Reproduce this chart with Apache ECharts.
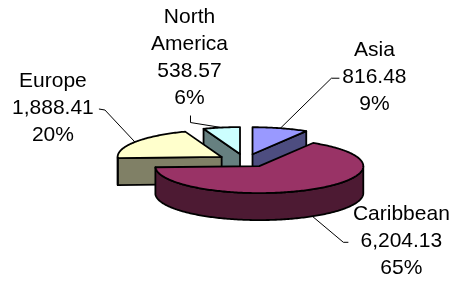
<!DOCTYPE html>
<html>
<head>
<meta charset="utf-8">
<script src="https://cdn.jsdelivr.net/npm/echarts@6/dist/echarts.min.js"></script>
<style>
html, body { margin: 0; padding: 0; background: #fff; }
#main { width: 455px; height: 281px; }
</style>
</head>
<body>
<div id="main"></div>
<script>
// data
var categories = ['Asia', 'Caribbean', 'Europe', 'North America'];
var values = [816.48, 6204.13, 1888.41, 538.57];
var percentLabels = ['9%', '65%', '20%', '6%'];

// styles
var topColors = ['#9999ff', '#993366', '#ffffcc', '#ccffff'];
var sideColors = ['#4d4d80', '#4d1a33', '#808066', '#668080'];

// label placement, relative to where the leader touches the slice
var labelOffsets = [[94, -51], [89, 25], [-82, -34], [-32, -70]];
var elbowOffsets = [[51, -50], [31, 26], [-30, -32], [-31, -5]];
var endOffsets = [[59, -50], [36, 26], [-36, -33], [-31, -12]];

// pie geometry (flattened 3D look)
var CX = 245, CY = 160.5;   // centre
var RX = 104, RY = 27;      // ellipse radii of the top face
var DEPTH = 27;             // thickness
var EXP_X = 28, EXP_Y = 6.5; // explode distance

var total = 0;
for (var i = 0; i < values.length; i++) total += values[i];
var startAngles = [], endAngles = [];
var acc = 0;
for (var i = 0; i < values.length; i++) {
	startAngles.push(acc / total * 360);
	acc += values[i];
	endAngles.push(acc / total * 360);
}

function rad(d) { return d * Math.PI / 180; }
function rim(cx, cy, a, dz) {
	return [cx + RX * Math.sin(rad(a)), cy - RY * Math.cos(rad(a)) + dz];
}
function arc(cx, cy, a0, a1, dz) {
	var pts = [];
	var n = Math.max(2, Math.ceil(Math.abs(a1 - a0)));
	for (var k = 0; k <= n; k++) pts.push(rim(cx, cy, a0 + (a1 - a0) * k / n, dz));
	return pts;
}
function fmt(v) {
	return echarts.format.addCommas(v.toFixed(2));
}

function renderSlice(params, api) {
	var i = params.dataIndex;
	var v = api.value(0);
	var a0 = startAngles[i], a1 = endAngles[i];
	var mid = (a0 + a1) / 2;
	var cx = CX + EXP_X * Math.sin(rad(mid));
	var cy = CY - EXP_Y * Math.cos(rad(mid));
	var base = Math.round((1 - Math.cos(rad(mid))) * 50) * 5;
	var line = { stroke: '#000', lineWidth: 1.8, lineJoin: 'round' };
	var children = [];

	// cut faces that look to the front
	[[a0, Math.sin(rad(a0)) < -0.01], [a1, Math.sin(rad(a1)) > 0.01]].forEach(function (f) {
		if (!f[1]) return;
		var p = rim(cx, cy, f[0], 0), q = rim(cx, cy, f[0], DEPTH);
		children.push({
			type: 'polygon', z2: base,
			shape: { points: [[cx, cy], p, q, [cx, cy + DEPTH]] },
			style: Object.assign({ fill: sideColors[i] }, line)
		});
	});

	// outer wall on the front half
	var w0 = Math.max(a0, 90), w1 = Math.min(a1, 270);
	if (w1 > w0) {
		var pts = arc(cx, cy, w0, w1, 0).concat(arc(cx, cy, w1, w0, DEPTH));
		children.push({
			type: 'polygon', z2: base + 1,
			shape: { points: pts },
			style: Object.assign({ fill: sideColors[i] }, line)
		});
	}

	// top face
	children.push({
		type: 'polygon', z2: base + 2,
		shape: { points: [[cx, cy]].concat(arc(cx, cy, a0, a1, 0)) },
		style: Object.assign({ fill: topColors[i] }, line)
	});

	// label with leader line
	var anchor = rim(cx, cy, mid, Math.cos(rad(mid)) < 0 ? DEPTH : 0);
	var lo = labelOffsets[i], eo = elbowOffsets[i], no = endOffsets[i];
	children.push({
		type: 'polyline', z2: 1000,
		shape: { points: [anchor, [anchor[0] + eo[0], anchor[1] + eo[1]], [anchor[0] + no[0], anchor[1] + no[1]]] },
		style: { stroke: '#000', lineWidth: 1, fill: null }
	});
	var name = categories[i].replace(' ', '\n');
	children.push({
		type: 'text', z2: 1001,
		x: anchor[0] + lo[0], y: anchor[1] + lo[1],
		style: {
			text: name + '\n' + fmt(v) + '\n' + percentLabels[i],
			font: '21px "Liberation Sans", Arial, sans-serif',
			lineHeight: 27,
			fill: '#000',
			align: 'center',
			verticalAlign: 'middle'
		}
	});

	return { type: 'group', children: children };
}

var pieChart = echarts.init(document.getElementById('main'));
var pieOption = {
	backgroundColor: '#fff',
	animation: false,
	series: [{
		type: 'custom',
		coordinateSystem: 'none',
		renderItem: renderSlice,
		data: values
	}]
};
pieChart.setOption(pieOption);
</script>
</body>
</html>
